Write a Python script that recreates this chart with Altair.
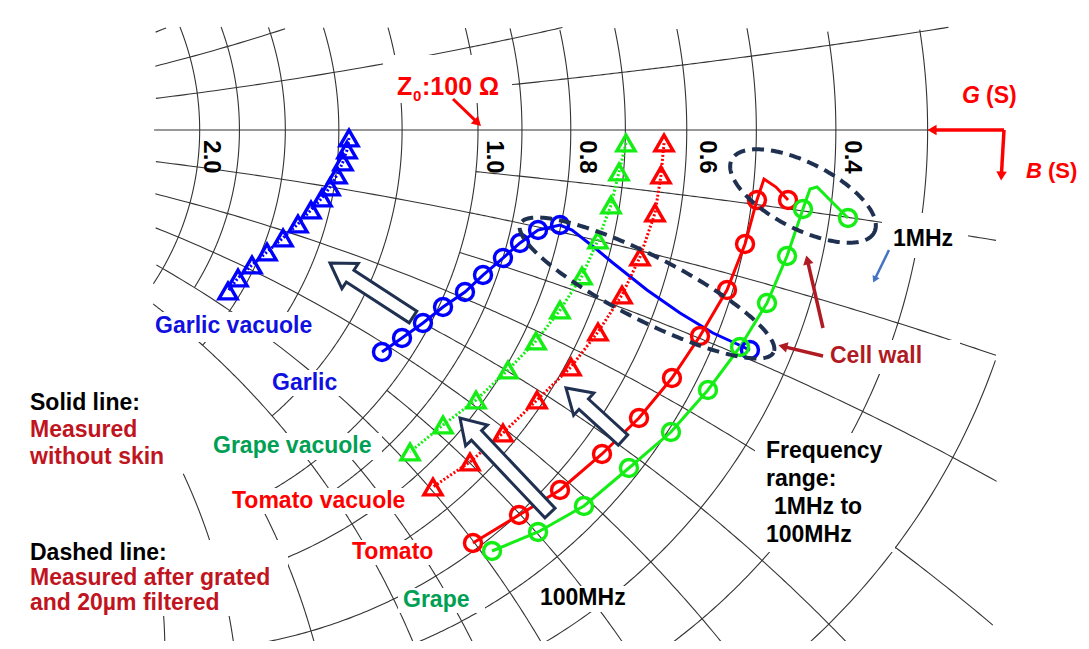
import numpy as np
import pandas as pd
import altair as alt

# ---------------- frame of the admittance Smith chart ----------------
CX, CY, R = 478.0, 130.0, 835.0      # position of the chart centre and unit-circle radius (page px)
W, H, OFF = 1073, 633, 8
CROP = (153, 997, 27, 700)           # visible part of the chart grid (page px)

def gx(px):
    return (px - CX) / R

def gy(py):
    return (CY - py) / R

XS = alt.Scale(domain=[gx(OFF), gx(OFF + W)], nice=False, zero=False)
YS = alt.Scale(domain=[gy(OFF + H), gy(OFF)], nice=False, zero=False)
FONT = "Liberation Sans"

# ---------------- measured data: reflection coefficient (Re, Im), 1 MHz -> 100 MHz ----------------
garlic_vac_re = [-0.1545, -0.1569, -0.1617, -0.1689, -0.1772, -0.1868, -0.2000, -0.2156, -0.2335, -0.2527, -0.2707, -0.2874, -0.2994]
garlic_vac_im = [-0.0096, -0.0240, -0.0383, -0.0539, -0.0683, -0.0814, -0.0958, -0.1126, -0.1293, -0.1461, -0.1617, -0.1772, -0.1928]

garlic_re = [0.3257, 0.3102, 0.2814, 0.2419, 0.2024, 0.1617, 0.1401, 0.1126, 0.0982, 0.0719, 0.0503, 0.0299, 0.0060, -0.0156, -0.0419, -0.0659, -0.0910, -0.1150]
garlic_im = [-0.2635, -0.2563, -0.2431, -0.2192, -0.1916, -0.1593, -0.1413, -0.1198, -0.1138, -0.1198, -0.1353, -0.1533, -0.1737, -0.1940, -0.2120, -0.2311, -0.2491, -0.2659]
garlic_mk = [1, 0, 0, 0, 0, 0, 0, 0, 1, 1, 1, 1, 1, 1, 1, 1, 1, 1]

grape_vac_re = [0.1772, 0.1689, 0.1593, 0.1437, 0.1246, 0.0982, 0.0695, 0.0359, -0.0024, -0.0419, -0.0814]
grape_vac_im = [-0.0156, -0.0503, -0.0898, -0.1317, -0.1748, -0.2156, -0.2527, -0.2874, -0.3234, -0.3533, -0.3856]

tomato_vac_re = [0.2228, 0.2192, 0.2120, 0.1940, 0.1725, 0.1437, 0.1114, 0.0707, 0.0299, -0.0096, -0.0539]
tomato_vac_im = [-0.0156, -0.0539, -0.0994, -0.1521, -0.1976, -0.2419, -0.2838, -0.3234, -0.3629, -0.3976, -0.4275]

tomato_re = [0.3713, 0.3569, 0.3425, 0.3341, 0.3198, 0.2982, 0.2659, 0.2323, 0.1928, 0.1485, 0.0982, 0.0491, -0.0060]
tomato_im = [-0.0838, -0.0683, -0.0587, -0.0838, -0.1365, -0.1916, -0.2467, -0.2970, -0.3449, -0.3880, -0.4311, -0.4611, -0.4946]
tomato_mk = [1, 0, 0, 1, 1, 1, 1, 1, 1, 1, 1, 1, 1]

grape_re = [0.4431, 0.4060, 0.3976, 0.3892, 0.3701, 0.3461, 0.3138, 0.2754, 0.2311, 0.1808, 0.1269, 0.0719, 0.0168]
grape_im = [-0.1054, -0.0683, -0.0707, -0.0946, -0.1509, -0.2072, -0.2599, -0.3114, -0.3617, -0.4048, -0.4503, -0.4814, -0.5042]
grape_mk = [1, 0, 0, 1, 1, 1, 1, 1, 1, 1, 1, 1, 1]

# grid: constant-G circles (g, |b| extent) and constant-B circles (b, g extent)
grid_g = [(0.2, 2.0), (0.3, 1.0), (0.4, 2.0), (0.5, 1.0), (0.6, 2.0), (0.7, 1.0), (0.8, 2.0), (0.9, 1.0),
          (1.0, 1.2), (1.2, 1.0), (1.4, 0.8), (1.6, 1.0), (1.8, 0.8), (2.0, 1.0)]
grid_b = [(0.1, 1.0), (0.2, 5.0), (0.3, 1.0), (0.4, 5.0), (0.5, 1.0), (0.6, 5.0), (0.7, 1.0), (0.8, 5.0),
          (0.9, 1.0), (1.0, 2.0), (1.2, 1.0), (1.4, 1.2), (1.6, 1.0), (1.8, 0.8), (2.0, 1.0)]
axis_ticks = ["2.0", "1.0", "0.8", "0.6", "0.4"]
axis_tick_px = [211, 494, 587, 707, 852]

RED, DRED, BLUE, LIME, DGREEN, NAVY = "#FF0000", "#C0141E", "#0000FF", "#14EE14", "#00A054", "#1F3050"

# ---------------- grid construction ----------------
def clip_segments(re, im):
    px = CX + R * re
    py = CY - R * im
    ins = (px >= CROP[0]) & (px <= CROP[1]) & (py >= CROP[2]) & (py <= CROP[3])
    segs, cur = [], []
    for a, b, k in zip(re, im, ins):
        if k:
            cur.append((a, b))
        else:
            if len(cur) > 1:
                segs.append(cur)
            cur = []
    if len(cur) > 1:
        segs.append(cur)
    return segs

rows = []
sid = 0
def add_curve(y):
    global sid
    G = (1 - y) / (1 + y)
    for seg in clip_segments(G.real, G.imag):
        for i, (a, b) in enumerate(seg):
            rows.append((sid, i, a, b))
        sid += 1

for g, bm in grid_g:
    add_curve(g + 1j * np.linspace(-bm, bm, 500))
for b, gm in grid_b:
    gs = np.concatenate([np.linspace(0, 1, 200), np.linspace(1, gm, 120)[1:]]) if gm > 1 else np.linspace(0, gm, 200)
    add_curve(gs + 1j * b)
    add_curve(gs - 1j * b)
add_curve(np.linspace(0, 6, 300) + 0j)
grid_df = pd.DataFrame(rows, columns=["sid", "idx", "re", "im"])

def xq(f="re"):
    return alt.X(f + ":Q", scale=XS, axis=None)

def yq(f="im"):
    return alt.Y(f + ":Q", scale=YS, axis=None)

layers = []
layers.append(alt.Chart(grid_df).mark_line(color="#333333", strokeWidth=1.1).encode(
    x=xq(), y=yq(), detail="sid:N", order="idx:Q"))

# white text backgrounds that hide the grid behind labels (page px: x0, x1, y0, y1)
boxes = [(383, 512, 55, 103), (882, 968, 213, 258), (826, 960, 340, 374), (755, 895, 433, 552),
         (535, 632, 586, 612), (151, 322, 312, 342), (267, 342, 370, 396), (208, 382, 433, 460),
         (228, 418, 488, 514), (347, 439, 540, 565), (398, 485, 588, 613), (955, 1032, 82, 110),
         (1025, 1089, 157, 185), (0, 178, 390, 470), (0, 288, 540, 616)]
bdf = pd.DataFrame({"x": [gx(b[0]) for b in boxes], "x2": [gx(b[1]) for b in boxes],
                    "y": [gy(b[2]) for b in boxes], "y2": [gy(b[3]) for b in boxes]})
layers.append(alt.Chart(bdf).mark_rect(color="white").encode(
    x=xq("x"), x2="x2:Q", y=yq("y"), y2="y2:Q"))

# ---------------- data series ----------------
def series(re, im, mk=None):
    mk = mk if mk is not None else [1] * len(re)
    return pd.DataFrame({"re": re, "im": im, "idx": range(len(re)), "mk": mk})

specs = [
    (series(garlic_vac_re, garlic_vac_im), BLUE, [2, 2], "triangle-up"),
    (series(garlic_re, garlic_im, garlic_mk), BLUE, None, "circle"),
    (series(grape_vac_re, grape_vac_im), LIME, [2, 2], "triangle-up"),
    (series(tomato_vac_re, tomato_vac_im), RED, [2, 2], "triangle-up"),
    (series(tomato_re, tomato_im, tomato_mk), RED, None, "circle"),
    (series(grape_re, grape_im, grape_mk), LIME, None, "circle"),
]
for df, col, dash, shape in specs:
    kw = dict(color=col, strokeWidth=3)
    if dash:
        kw["strokeDash"] = dash
    layers.append(alt.Chart(df).mark_line(**kw).encode(x=xq(), y=yq(), order="idx:Q"))
for df, col, dash, shape in specs:
    layers.append(alt.Chart(df[df.mk == 1]).mark_point(
        shape=shape, filled=False, color=col, strokeWidth=3.4, size=290 if shape == "circle" else 330,
        opacity=1).encode(x=xq(), y=yq()))

# ---------------- dashed ellipses (page px: cx, cy, semi-major, semi-minor, tilt deg) ----------------
ell = [(647, 288, 142, 32, 27), (803, 196, 80, 33, 27)]
erows = []
t = np.linspace(0, 2 * np.pi, 240)
for k, (cx, cy, a, b, th) in enumerate(ell):
    c, s = np.cos(np.radians(th)), np.sin(np.radians(th))
    px = cx + a * np.cos(t) * c - b * np.sin(t) * s
    py = cy + a * np.cos(t) * s + b * np.sin(t) * c
    for i in range(len(t)):
        erows.append((k, i, gx(px[i]), gy(py[i])))
edf = pd.DataFrame(erows, columns=["k", "idx", "re", "im"])
layers.append(alt.Chart(edf).mark_line(color=NAVY, strokeWidth=4, strokeDash=[12, 7]).encode(
    x=xq(), y=yq(), detail="k:N", order="idx:Q"))

# ---------------- hollow block arrows (tail -> head, page px) ----------------
def block_path(L, shaft=7.0, hw=15.0, hl=24.0):
    s = L / 2.0
    w, h, l = shaft / s, hw / s, hl / s
    yb = -1 + l
    return (f"M{-w:.4f},1L{w:.4f},1L{w:.4f},{yb:.4f}L{h:.4f},{yb:.4f}L0,-1"
            f"L{-h:.4f},{yb:.4f}L{-w:.4f},{yb:.4f}Z")

def heading(x0, y0, x1, y1):
    return float(np.degrees(np.arctan2(x1 - x0, -(y1 - y0))) % 360)

for (x0, y0, x1, y1) in [(413, 317, 330, 263), (550, 513, 460, 418), (623, 440, 566, 388)]:
    L = float(np.hypot(x1 - x0, y1 - y0))
    d = pd.DataFrame({"re": [gx((x0 + x1) / 2)], "im": [gy((y0 + y1) / 2)]})
    layers.append(alt.Chart(d).mark_point(
        shape=block_path(L), size=L * L, angle=heading(x0, y0, x1, y1), filled=True,
        fill="white", stroke=NAVY, strokeWidth=3, opacity=1).encode(x=xq(), y=yq()))

# ---------------- thin arrows ----------------
thin = [(453, 99, 482, 127, RED, 3), (1004, 130, 926, 130, RED, 3.5), (1004, 130, 1001, 182, RED, 3.5),
        (823, 328, 806, 254, "#B01A22", 3.5), (823, 356, 777, 345, "#B01A22", 3.5),
        (889, 250, 872, 285, "#4472C4", 2.5)]
for (x0, y0, x1, y1, col, sw) in thin:
    L = np.hypot(x1 - x0, y1 - y0)
    ux, uy = (x1 - x0) / L, (y1 - y0) / L
    hx, hy = x1 - ux * 6, y1 - uy * 6
    d = pd.DataFrame({"re": [gx(x0)], "im": [gy(y0)], "re2": [gx(x1 - ux * 8)], "im2": [gy(y1 - uy * 8)]})
    layers.append(alt.Chart(d).mark_rule(color=col, strokeWidth=sw).encode(
        x=xq(), y=yq(), x2="re2:Q", y2="im2:Q"))
    h = pd.DataFrame({"re": [gx(hx)], "im": [gy(hy)]})
    layers.append(alt.Chart(h).mark_point(
        shape="triangle-up", filled=True, color=col, size=110 if sw > 2.6 else 60,
        angle=heading(x0, y0, x1, y1), opacity=1).encode(x=xq(), y=yq()))

# ---------------- texts ----------------
texts = [
    ("Z", 397, 87, RED, 25, False), ("0", 413, 96, RED, 15, False), (":100 Ω", 422, 87, RED, 25, False),
    ("G", 962, 96, RED, 23, True), ("(S)", 986, 96, RED, 23, False),
    ("B", 1026, 171, RED, 22, True), ("(S)", 1048, 171, RED, 22, False),
    ("1MHz", 893, 239, "black", 23, False),
    ("Cell wall", 830, 356, "#B01A22", 23, False),
    ("Garlic vacuole", 155, 326, "#1010E0", 23, False),
    ("Garlic", 272, 383, "#1010E0", 23, False),
    ("Solid line:", 30, 403, "black", 23, False),
    ("Measured", 30, 430, DRED, 23, False),
    ("without skin", 30, 457, DRED, 23, False),
    ("Grape vacuole", 213, 446, DGREEN, 23, False),
    ("Tomato vacuole", 232, 501, RED, 23, False),
    ("Dashed line:", 30, 553, "black", 23, False),
    ("Measured after grated", 30, 578, DRED, 23, False),
    ("and 20µm filtered", 30, 603, DRED, 23, False),
    ("Tomato", 352, 552, RED, 23, False),
    ("Grape", 403, 600, DGREEN, 23, False),
    ("100MHz", 540, 598, "black", 23, False),
    ("Frequency", 766, 451, "black", 23, False),
    ("range:", 766, 479, "black", 23, False),
    ("1MHz to", 774, 507, "black", 23, False),
    ("100MHz", 766, 535, "black", 23, False),
]
for (s, px, py, col, fs, it) in texts:
    d = pd.DataFrame({"re": [gx(px)], "im": [gy(py)], "t": [s]})
    layers.append(alt.Chart(d).mark_text(
        align="left", baseline="middle", font=FONT, fontSize=fs, fontWeight="bold",
        fontStyle="italic" if it else "normal", color=col).encode(x=xq(), y=yq(), text="t:N"))

tick_df = pd.DataFrame({"re": [gx(p) for p in axis_tick_px], "im": [gy(157)] * len(axis_ticks), "t": axis_ticks})
layers.append(alt.Chart(tick_df).mark_text(
    align="center", baseline="middle", angle=90, font=FONT, fontSize=24, fontWeight="bold",
    color="black").encode(x=xq(), y=yq(), text="t:N"))

chart = alt.layer(*layers).properties(
    width=W, height=H, padding=0, autosize=alt.AutoSizeParams(type="none"),
    background="white").configure_view(strokeWidth=0)

chart.save("out.html", embed_options={"renderer": "svg", "actions": False})
